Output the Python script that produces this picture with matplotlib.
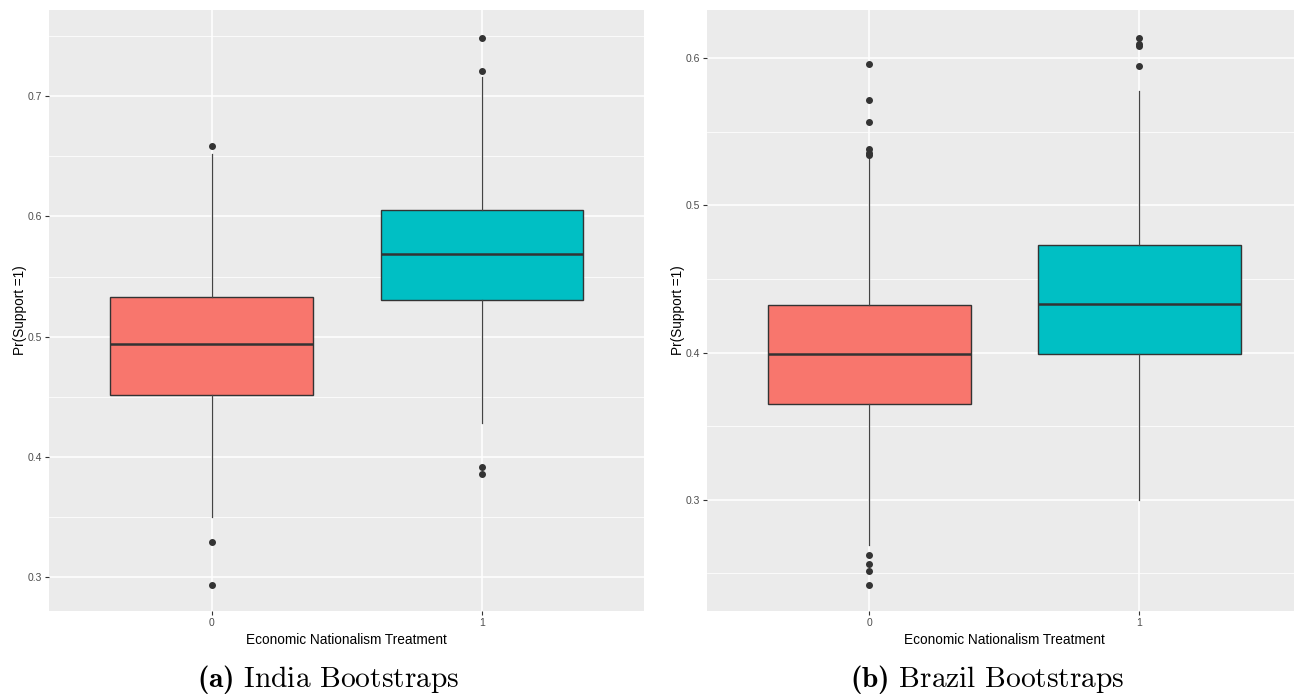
import matplotlib
matplotlib.use("Agg")
import matplotlib.pyplot as plt
from matplotlib.ticker import MultipleLocator

plt.rcParams['font.family'] = ['Liberation Sans', 'DejaVu Sans']
plt.rcParams['mathtext.fontset'] = 'custom'
plt.rcParams['mathtext.rm'] = 'cmr10'
plt.rcParams['mathtext.bf'] = 'cmb10'

# values: quartiles, whisker ends, outliers
groups = ["0", "1"]
fills = ["#F8766D", "#00BFC4"]

india_q1 = [0.4518, 0.5305]
india_med = [0.4940, 0.5684]
india_q3 = [0.5330, 0.6055]
india_whislo = [0.3505, 0.4280]
india_whishi = [0.6520, 0.7155]
india_fliers = [[0.6584, 0.3290, 0.2939], [0.7480, 0.7205, 0.3914, 0.3859]]

brazil_q1 = [0.3653, 0.3989]
brazil_med = [0.3993, 0.4327]
brazil_q3 = [0.4324, 0.4733]
brazil_whislo = [0.2694, 0.3000]
brazil_whishi = [0.5329, 0.5780]
brazil_fliers = [[0.5959, 0.5714, 0.5565, 0.5381, 0.5356, 0.5340,
                  0.2622, 0.2560, 0.2517, 0.2422],
                 [0.6139, 0.6094, 0.6085, 0.5946]]


def make_stats(q1, med, q3, lo, hi, fl):
    out = []
    for i in range(len(groups)):
        out.append(dict(q1=q1[i], med=med[i], q3=q3[i], whislo=lo[i],
                        whishi=hi[i], fliers=fl[i], label=groups[i]))
    return out


def draw(ax, stats, ylim):
    ax.set_facecolor("#EBEBEB")
    for s in ax.spines.values():
        s.set_visible(False)
    ax.yaxis.set_major_locator(MultipleLocator(0.1))
    ax.yaxis.set_minor_locator(MultipleLocator(0.05))
    ax.grid(True, which="major", color="white", lw=1.1)
    ax.grid(True, which="minor", axis="y", color="white", lw=0.55)
    ax.set_axisbelow(True)
    bp = ax.bxp(stats, positions=[1, 2], widths=0.75, patch_artist=True,
                showcaps=False,
                boxprops=dict(edgecolor="#333333", lw=1.0),
                whiskerprops=dict(color="#444444", lw=0.9),
                medianprops=dict(color="#333333", lw=1.8),
                flierprops=dict(marker="o", markersize=4, markerfacecolor="#333333",
                                markeredgecolor="#333333", lw=0))
    for patch, c in zip(bp["boxes"], fills):
        patch.set_facecolor(c)
    ax.set_xlim(0.4, 2.6)
    ax.set_ylim(*ylim)
    ax.set_xticks([1, 2])
    ax.set_xticklabels(groups)
    ax.tick_params(which="major", length=3, width=0.8, color="#333333",
                   labelsize=7.5, labelcolor="#4D4D4D", pad=2)
    ax.tick_params(which="minor", length=0)
    ax.set_xlabel("Economic Nationalism Treatment", fontsize=9.8, labelpad=4)
    ax.set_ylabel("Pr(Support =1)", fontsize=9.8, labelpad=1)


fig = plt.figure(figsize=(12.94, 6.96), dpi=100)
ax1 = fig.add_axes([49.3 / 1294, 85 / 696, 595 / 1294, 601 / 696])
ax2 = fig.add_axes([707.3 / 1294, 85 / 696, 594 / 1294, 601 / 696])

draw(ax1, make_stats(india_q1, india_med, india_q3, india_whislo,
                     india_whishi, india_fliers), (0.272, 0.7715))
draw(ax2, make_stats(brazil_q1, brazil_med, brazil_q3, brazil_whislo,
                     brazil_whishi, brazil_fliers), (0.2244, 0.6328))

fig.text(328 / 1294, 9 / 696, r"$\mathbf{(a)}\ \mathrm{India\ Bootstraps}$",
         ha="center", va="baseline", fontsize=21.2)
fig.text(987 / 1294, 9 / 696, r"$\mathbf{(b)}\ \mathrm{Brazil\ Bootstraps}$",
         ha="center", va="baseline", fontsize=21.2)

fig.savefig("out.png", dpi=100)
